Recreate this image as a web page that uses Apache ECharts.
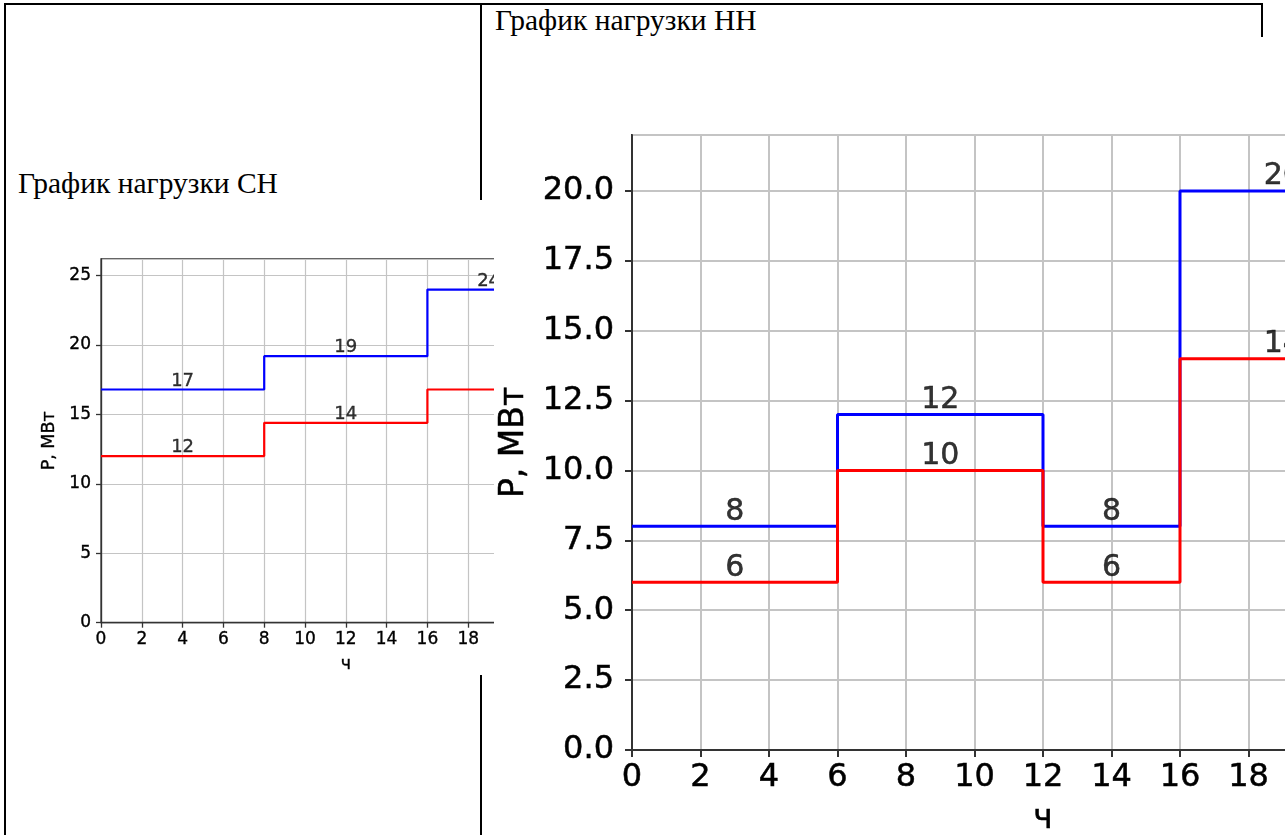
<!DOCTYPE html>
<html><head><meta charset="utf-8">
<script src="https://cdn.jsdelivr.net/npm/echarts@6/dist/echarts.min.js"></script>
<style>
html,body{margin:0;padding:0;background:#fff;width:1285px;height:835px;overflow:hidden;position:relative;}
.ln{position:absolute;background:#000;}
.ttl{position:absolute;font-family:"Liberation Serif","Times New Roman",serif;font-size:29.5px;line-height:29px;color:#000;white-space:nowrap;}
.img{position:absolute;overflow:hidden;background:#fff;}
.ch{position:absolute;left:0;top:0;}
</style></head><body>
<div class="ln" style="left:4px;top:3px;width:1259px;height:2px"></div>
<div class="ln" style="left:4px;top:3px;width:2px;height:832px"></div>
<div class="ln" style="left:480px;top:3px;width:2px;height:832px"></div>
<div class="ln" style="left:1261px;top:3px;width:2px;height:34px"></div>
<div class="ttl" style="left:18px;top:169px">График нагрузки СН</div>
<div class="ttl" style="left:495px;top:6px">График нагрузки НН</div>
<div class="img" style="left:10px;top:200px;width:484px;height:475px"><div id="c1" class="ch" style="width:640px;height:475px"></div></div>
<div class="img" style="left:495px;top:37px;width:790px;height:798px"><div id="c2" class="ch" style="width:1000px;height:798px"></div></div>
<script>
// ---- data: График нагрузки СН ----
const hoursCH = [0, 8, 16, 22];
const blueCH = [16.8, 19.2, 24];
const redCH = [12, 14.4, 16.8];
const blueCHLabelled = [true, true, true];
const redCHLabelled = [true, true, false];
// ---- data: График нагрузки НН ----
const hoursHH = [0, 6, 12, 16, 22];
const blueHH = [8, 12, 8, 20];
const redHH = [6, 10, 6, 14];
const blueHHLabelled = [true, true, true, true];
const redHHLabelled = [true, true, true, true];
// axis
const xName = 'ч';
const yName = 'P, МВт';
const xMax = 24, xStep = 2;
const yMaxCH = 26.2, yStepCH = 5;
const yMaxHH = 22, yStepHH = 2.5;

const FONT = 'DejaVu Sans';

function steps(h, v) {
  const pts = [];
  for (let i = 0; i < v.length; i++) { pts.push([h[i], v[i]]); pts.push([h[i + 1], v[i]]); }
  return pts;
}
function labels(h, v, flags) {
  const out = [];
  v.forEach((val, i) => { if (flags[i]) out.push([(h[i] + h[i + 1]) / 2, val, Math.round(val)]); });
  return out;
}

function build(s) {
  const txt = { fontFamily: FONT, color: '#000', textBorderColor: '#000', textBorderWidth: s.tb };
  const axisCommon = {
    type: 'value',
    axisLine: { show: true, lineStyle: { color: '#333', width: s.spine } },
    axisTick: { show: true, length: s.tick, lineStyle: { color: '#333', width: s.spine } },
    splitLine: { show: true, lineStyle: { color: '#c4c4c4', width: s.grid } },
    nameLocation: 'middle',
    nameTextStyle: Object.assign({ fontSize: s.nameFont }, txt)
  };
  const series = [];
  [[s.blue, '#0000ff'], [s.red, '#ff0000']].forEach(([vals, col]) => {
    series.push({
      type: 'line', data: steps(s.hours, vals), symbol: 'none', clip: true,
      lineStyle: { color: col, width: s.lw }, animation: false
    });
  });
  [[s.blue, s.blueFlags], [s.red, s.redFlags]].forEach(([vals, flags]) => {
    series.push({
      type: 'scatter', data: labels(s.hours, vals, flags), symbolSize: 1,
      itemStyle: { color: 'rgba(0,0,0,0)' }, z: 10, animation: false,
      label: Object.assign({
        show: true, position: 'top', distance: s.labDist,
        formatter: p => String(p.value[2]), fontSize: s.labFont
      }, txt)
    });
  });
  return {
    animation: false,
    grid: { left: s.gl, top: s.gt, width: s.gw, height: s.gh, show: true, borderColor: '#333', borderWidth: s.spine,
      backgroundColor: '#fff', containLabel: false, outerBoundsMode: 'none' },
    xAxis: Object.assign({}, axisCommon, {
      min: 0, max: xMax, interval: xStep, name: xName, nameGap: s.xNameGap,
      axisLabel: Object.assign({ margin: s.xLabMargin, fontSize: s.tickFont }, txt)
    }),
    yAxis: Object.assign({}, axisCommon, {
      min: 0, max: s.yMax, interval: s.yStep, name: yName, nameGap: s.yNameGap, nameRotate: 90,
      axisLabel: Object.assign({ margin: s.yLabMargin, fontSize: s.tickFont, showMaxLabel: false,
        formatter: v => s.dec ? v.toFixed(1) : String(v) }, txt)
    }),
    series: series
  };
}

const c1 = echarts.init(document.getElementById('c1'), null, { renderer: 'canvas' });
c1.setOption(build({
  hours: hoursCH, blue: blueCH, red: redCH, blueFlags: blueCHLabelled, redFlags: redCHLabelled,
  yMax: yMaxCH, yStep: yStepCH, dec: false,
  gl: 91, gt: 59, gw: 489.6, gh: 363.7,
  spine: 1.3, tick: 5, grid: 1.2, lw: 2.2, tb: 0.35,
  tickFont: 17, labFont: 18, nameFont: 17.5, labDist: -1,
  xLabMargin: 8, yLabMargin: 10, xNameGap: 33, yNameGap: 42
}));

const c2 = echarts.init(document.getElementById('c2'), null, { renderer: 'canvas' });
c2.setOption(build({
  hours: hoursHH, blue: blueHH, red: redHH, blueFlags: blueHHLabelled, redFlags: redHHLabelled,
  yMax: yMaxHH, yStep: yStepHH, dec: true,
  gl: 137, gt: 98, gw: 822, gh: 615,
  spine: 2, tick: 7, grid: 2, lw: 3, tb: 0.5,
  tickFont: 32, labFont: 30, nameFont: 33, labDist: -1,
  xLabMargin: 12, yLabMargin: 18, xNameGap: 53, yNameGap: 100
}));
</script>
</body></html>
